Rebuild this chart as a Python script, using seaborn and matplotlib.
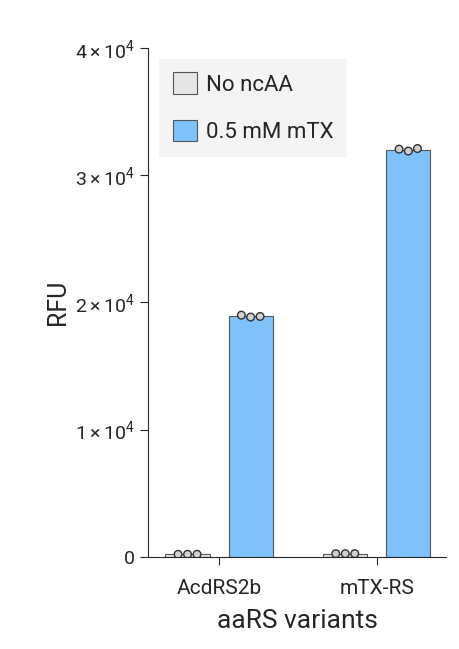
import matplotlib
matplotlib.use("Agg")
import matplotlib.pyplot as plt
import seaborn as sns
import pandas as pd
import numpy as np

variants = ["AcdRS2b", "mTX-RS"]
conditions = ["No ncAA", "0.5 mM mTX"]
reps_no = {"AcdRS2b": [200, 200, 200], "mTX-RS": [250, 250, 250]}
reps_mtx = {"AcdRS2b": [19000, 18900, 18850], "mTX-RS": [32100, 31900, 32050]}
yticks = [0, 10000, 20000, 30000, 40000]
ylabels = ["0", r"$1\times10^4$", r"$2\times10^4$", r"$3\times10^4$", r"$4\times10^4$"]

rows = []
for v in variants:
    for val in reps_no[v]:
        rows.append((v, conditions[0], val))
    for val in reps_mtx[v]:
        rows.append((v, conditions[1], val))
df = pd.DataFrame(rows, columns=["variant", "cond", "rfu"])

sns.set_style("ticks")
plt.rcParams["font.family"] = ["Roboto", "DejaVu Sans"]
plt.rcParams["mathtext.fontset"] = "custom"
plt.rcParams["mathtext.rm"] = "Roboto"
plt.rcParams["mathtext.it"] = "Roboto"

fig = plt.figure(figsize=(4.6, 6.49), dpi=100)
ax = fig.add_axes([0.322, 0.142, 0.648, 0.784])
pal = {"No ncAA": "#e6e6e6", "0.5 mM mTX": "#7fc1fb"}
sns.barplot(data=df, x="variant", y="rfu", hue="cond", palette=pal, errorbar=None,
            width=0.8, gap=0.3, edgecolor="#555555", linewidth=0.8, ax=ax, saturation=1)
sns.swarmplot(data=df, x="variant", y="rfu", hue="cond", dodge=True,
              palette={"No ncAA": "#d0d0d0", "0.5 mM mTX": "#d0d0d0"}, edgecolor="#333333",
              linewidth=1, size=5.5, ax=ax, legend=False)
ax.set_ylim(0, 40000)
ax.set_xlim(-0.45, 1.44)
ax.set_yticks(yticks)
ax.set_yticklabels(ylabels, fontsize=14)
ax.tick_params(axis="x", labelsize=15, length=6, pad=10)
ax.tick_params(axis="y", length=6)
ax.set_xlabel("aaRS variants", fontsize=19, labelpad=8)
ax.set_ylabel("RFU", fontsize=18)
sns.despine(ax=ax)
leg = ax.legend(loc="upper left", bbox_to_anchor=(0.0, 1.0), fontsize=16, frameon=True,
                facecolor="#f4f4f4", edgecolor="none", framealpha=1, handlelength=1.1,
                handleheight=1.1, labelspacing=1.1, borderpad=0.6, handletextpad=0.4, fancybox=False)
fig.savefig("out.png", dpi=100)
